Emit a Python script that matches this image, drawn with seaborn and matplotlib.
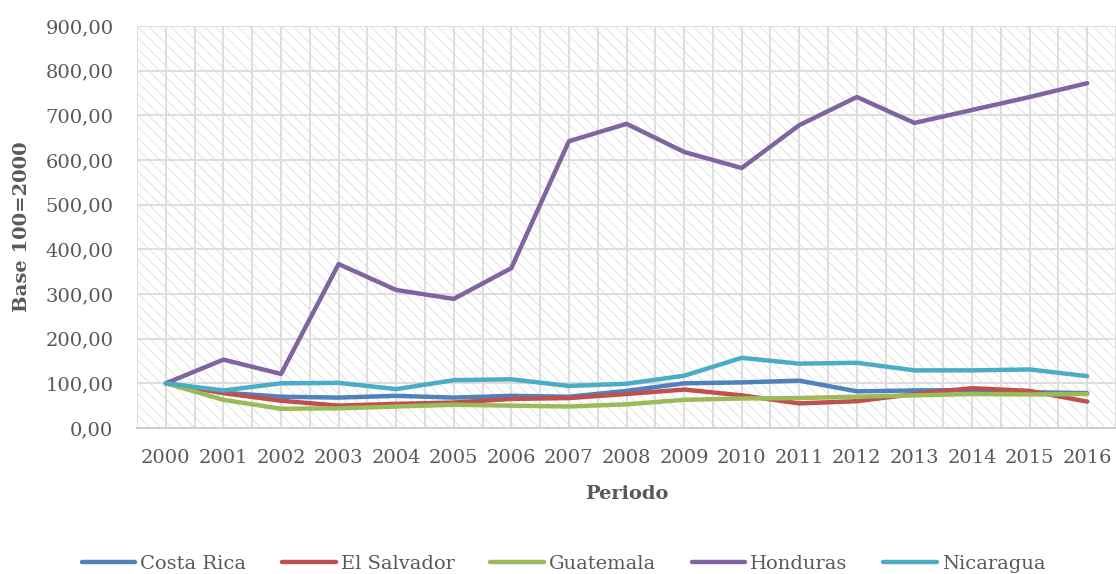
import matplotlib
matplotlib.use("Agg")
import matplotlib.pyplot as plt
import matplotlib.ticker as mticker
from matplotlib.patches import Rectangle
from matplotlib.lines import Line2D
import seaborn as sns
import pandas as pd

years = list(range(2000, 2017))
costa_rica = [100, 79, 70, 68, 72, 68, 72, 70, 83, 100, 102, 106, 82, 84, 85, 80, 78]
el_salvador = [100, 78, 61, 50, 54, 57, 65, 67, 76, 86, 73, 55, 60, 76, 89, 83, 59]
guatemala = [100, 63, 43, 44, 48, 52, 50, 48, 53, 63, 66, 67, 70, 73, 76, 75, 76]
honduras = [100, 153, 121, 367, 309, 289, 358, 642, 681, 618, 582, 678, 741, 683, 712, 741, 772]
nicaragua = [100, 84, 100, 101, 87, 107, 109, 94, 99, 117, 157, 144, 146, 129, 129, 131, 116]

countries = ["Costa Rica", "El Salvador", "Guatemala", "Honduras", "Nicaragua"]
series = [costa_rica, el_salvador, guatemala, honduras, nicaragua]
colors = ["#4F81BD", "#C0504D", "#9BBB59", "#8064A2", "#4BACC6"]

rows = []
for c, vals in zip(countries, series):
    for y, v in zip(years, vals):
        rows.append({"Periodo": y, "Valor": v, "País": c})
df = pd.DataFrame(rows)

sns.set_theme(style="white")
plt.rcParams["font.family"] = ["DejaVu Serif"]
plt.rcParams["hatch.linewidth"] = 0.7
plt.rcParams["hatch.color"] = "#e2e2e2"

fig = plt.figure(figsize=(11.16, 5.74), dpi=100)
ax = fig.add_axes([0.1228, 0.2544, 0.8772, 0.7003])

ax.set_xlim(1999.5, 2016.5)
ax.set_ylim(0, 900)

# hatched background
bg = Rectangle((0, 0), 1, 1, transform=ax.transAxes, facecolor="white",
               edgecolor="#e2e2e2", hatch="\\\\\\", linewidth=0, zorder=0)
ax.add_patch(bg)

ax.set_axisbelow(True)
ax.set_xticks([y + 0.5 for y in range(1999, 2017)], minor=True)
ax.set_xticks(years)
ax.grid(True, which="both", axis="x", color="#dedede", linewidth=1.4, zorder=1)
ax.grid(True, which="major", axis="y", color="#dedede", linewidth=1.4, zorder=1)

sns.lineplot(data=df, x="Periodo", y="Valor", hue="País", palette=colors,
             linewidth=3.2, ax=ax, legend=False, zorder=3)

for s in ["top", "right", "left"]:
    ax.spines[s].set_visible(False)
ax.spines["bottom"].set_color("#d0d0d0")
ax.spines["bottom"].set_linewidth(1.5)

ax.yaxis.set_major_locator(mticker.MultipleLocator(100))
ax.yaxis.set_major_formatter(mticker.FuncFormatter(lambda v, p: f"{v:.2f}".replace(".", ",")))
ax.tick_params(axis="both", which="both", length=0, labelsize=14, colors="#595959")
ax.tick_params(axis="y", pad=17)
ax.tick_params(axis="x", pad=15)
ax.set_xticklabels([str(y) for y in years])

ax.set_xlabel("Periodo", fontsize=14, fontweight="bold", color="#595959")
ax.xaxis.set_label_coords(0.5, -0.142)
ax.set_ylabel("Base 100=2000", fontsize=14, fontweight="bold", color="#595959")
ax.yaxis.set_label_coords(-0.108, 0.5)

handles = [Line2D([0], [0], color=c, linewidth=3.2) for c in colors]
leg = fig.legend(handles, countries, loc="center", bbox_to_anchor=(0.505, 0.018),
                 ncol=5, frameon=False, fontsize=14, handlelength=2.75,
                 columnspacing=1.85, handletextpad=0.25)
for t in leg.get_texts():
    t.set_color("#595959")

fig.savefig("out.png", dpi=100)
